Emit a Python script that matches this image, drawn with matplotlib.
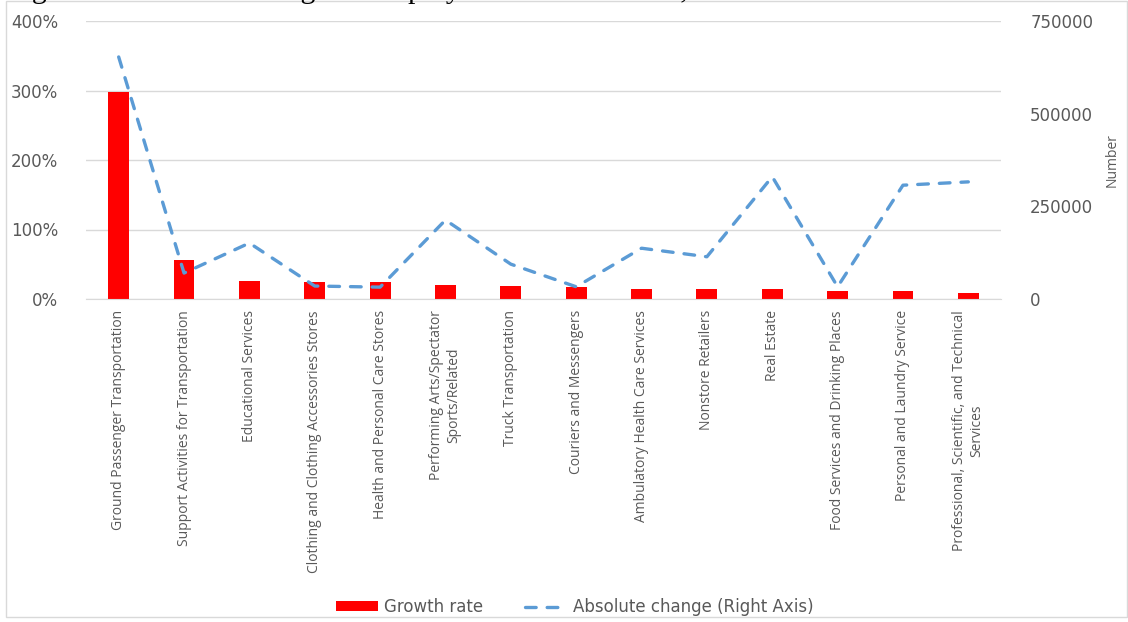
import matplotlib
matplotlib.use("Agg")
import matplotlib.pyplot as plt
import numpy as np
from matplotlib.ticker import PercentFormatter, FixedLocator
from matplotlib.patches import Rectangle

industries = [
    "Ground Passenger Transportation",
    "Support Activities for Transportation",
    "Educational Services",
    "Clothing and Clothing Accessories Stores",
    "Health and Personal Care Stores",
    "Performing Arts/Spectator\nSports/Related",
    "Truck Transportation",
    "Couriers and Messengers",
    "Ambulatory Health Care Services",
    "Nonstore Retailers",
    "Real Estate",
    "Food Services and Drinking Places",
    "Personal and Laundry Service",
    "Professional, Scientific, and Technical\nServices",
]
growth_rate = [2.98, 0.56, 0.255, 0.245, 0.24, 0.20, 0.187, 0.177,
               0.145, 0.145, 0.145, 0.115, 0.115, 0.09]
abs_change = [653000, 70000, 151000, 35000, 32000, 213000, 94000, 33000,
              137000, 114000, 330000, 33000, 307000, 316000]

grey = "#595959"
x = np.arange(len(industries))

fig = plt.figure(figsize=(11.28, 6.22), dpi=100)
ax = fig.add_axes([86 / 1128, 1 - 299 / 622, 915 / 1128, 278 / 622])
ax2 = ax.twinx()

# caption line above the chart, cut off by the top edge
fig.text(7 / 1128, 1 + 2 / 622, "Figure 1: Sectors Leading the Employment Growth Rate,",
         family="Liberation Serif", fontsize=21.4, va="baseline", ha="left")

# chart frame
fig.patches.append(Rectangle((6, 5), 1121, 616, transform=None, fill=False,
                             edgecolor="#d9d9d9", linewidth=1))

bars = ax.bar(x, growth_rate, width=0.32, color="#ff0000", zorder=2, label="Growth rate")
line, = ax2.plot(x, abs_change, color="#5b9bd5", linewidth=2.4, linestyle=(0, (3.2, 3.3)),
                 dash_capstyle="round", label="Absolute change (Right Axis)")

ax.set_xlim(-0.5, len(industries) - 0.5)
ax.set_ylim(0, 4)
ax.yaxis.set_major_locator(FixedLocator([0, 1, 2, 3, 4]))
ax.yaxis.set_major_formatter(PercentFormatter(xmax=1, decimals=0))
ax.grid(axis="y", color="#d9d9d9", linewidth=1)
ax.set_axisbelow(True)

ax2.set_ylim(0, 750000)
ax2.yaxis.set_major_locator(FixedLocator([0, 250000, 500000, 750000]))
ax2.set_ylabel("Number", family="Open Sans", fontsize=10, color=grey)
ax2.yaxis.set_label_coords((1105 - 86) / 915, 0.5)

for a in (ax, ax2):
    for s in a.spines.values():
        s.set_visible(False)
ax.spines["bottom"].set_visible(True)
ax.spines["bottom"].set_color("#d9d9d9")

ax.tick_params(axis="y", length=0, pad=20, labelsize=12, labelcolor=grey)
ax2.tick_params(axis="y", length=0, pad=21, labelsize=12, labelcolor=grey)
ax.set_xticks(x)
ax.set_xticklabels(industries, rotation=90, family="Open Sans", fontsize=10,
                   color=grey, multialignment="center")
ax.tick_params(axis="x", length=0, pad=8)

fig.legend(handles=[bars, line], loc="center", bbox_to_anchor=(575 / 1128, 1 - 607 / 622),
           ncol=2, frameon=False, fontsize=12, labelcolor=grey, handlelength=2.5,
           handleheight=0.5, columnspacing=2.5, handletextpad=0.4)

fig.savefig("out.png", dpi=100)
